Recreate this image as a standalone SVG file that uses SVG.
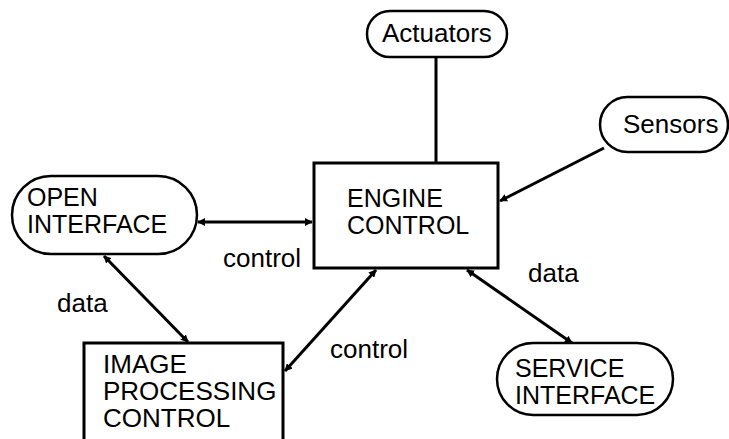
<svg xmlns="http://www.w3.org/2000/svg" width="729" height="439" viewBox="0 0 729 439">
<style>
.t{font-family:"Liberation Sans",Arial,sans-serif;font-size:26px;fill:#000}
.m{font-family:"Liberation Sans",Arial,sans-serif;font-size:25px;fill:#000}
.box{fill:#fff;stroke:#000;stroke-width:3}
.pill{fill:#fff;stroke:#000;stroke-width:2.5}
.c{stroke:#000;stroke-width:3;fill:none}
</style>
<defs>
<marker id="a" viewBox="0 0 10 10" refX="9" refY="5" markerWidth="2.6" markerHeight="2.6" orient="auto-start-reverse">
<path d="M0,0 L10,5 L0,10 z" fill="#000"/>
</marker>
</defs>
<rect width="729" height="439" fill="#fff"/>
<g id="connectors">
<line class="c" x1="436" y1="57" x2="436" y2="163"/>
<line class="c" x1="604" y1="148" x2="500" y2="201" marker-end="url(#a)"/>
<line class="c" x1="198" y1="222" x2="312" y2="222" marker-start="url(#a)" marker-end="url(#a)"/>
<line class="c" x1="104" y1="256" x2="188" y2="342" marker-start="url(#a)" marker-end="url(#a)"/>
<line class="c" x1="285" y1="371" x2="376" y2="270" marker-start="url(#a)" marker-end="url(#a)"/>
<line class="c" x1="467" y1="270" x2="572" y2="343" marker-start="url(#a)" marker-end="url(#a)"/>
</g>
<g id="actuators">
<rect class="pill" x="367" y="11" width="140" height="46" rx="23"/>
<text class="t" x="382" y="42">Actuators</text>
</g>
<g id="sensors">
<rect class="pill" x="600" y="97" width="128" height="55" rx="27.5"/>
<text class="t" x="623" y="133">Sensors</text>
</g>
<g id="engine">
<rect class="box" x="314" y="163" width="184" height="105"/>
<text class="m" x="347" y="207">ENGINE<tspan x="347" y="234">CONTROL</tspan></text>
</g>
<g id="open">
<rect class="pill" x="12" y="176" width="185" height="78" rx="39"/>
<text class="m" x="27" y="206">OPEN<tspan x="27" y="233">INTERFACE</tspan></text>
</g>
<g id="image">
<rect class="box" x="84" y="343" width="199" height="110"/>
<text class="t" x="103" y="373">IMAGE<tspan x="103" y="400">PROCESSING</tspan><tspan x="103" y="427">CONTROL</tspan></text>
</g>
<g id="service">
<rect class="pill" x="497" y="343" width="176" height="72" rx="36"/>
<text class="m" x="515" y="377">SERVICE<tspan x="515" y="404">INTERFACE</tspan></text>
</g>
<g id="labels">
<text class="t" x="223" y="267">control</text>
<text class="t" x="57" y="312">data</text>
<text class="t" x="330" y="358">control</text>
<text class="t" x="528" y="282">data</text>
</g>
</svg>
